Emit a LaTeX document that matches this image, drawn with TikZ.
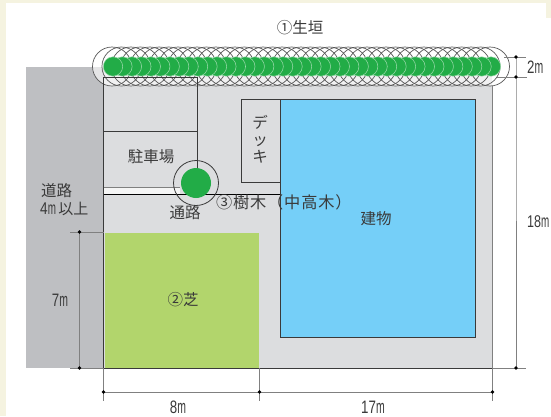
\documentclass[tikz,border=0pt]{standalone}
\usepackage{fontspec}
\setmainfont{Noto Sans CJK JP}
\newfontfamily\latinf{Liberation Sans}
\newcommand{\emm}{\scalebox{.58}[1.05]{m}}
\newcommand{\dimt}[1]{\scalebox{.74}[1]{#1}\emm}
\definecolor{cream}{HTML}{F5F3E0}
\definecolor{roadgray}{HTML}{BEBFC2}
\definecolor{sitegray}{HTML}{DCDDDF}
\definecolor{lawn}{HTML}{B2D56C}
\definecolor{bldg}{HTML}{75CFF8}
\definecolor{leaf}{HTML}{22AC47}
\definecolor{ink}{HTML}{3A3A3A}
\definecolor{dimgray}{HTML}{808080}
\tikzset{
  txt/.style={inner sep=0pt,text=ink,font=\fontsize{15.5}{18}\selectfont},
  dimtxt/.style={inner sep=0pt,text=ink,font=\latinf\fontsize{18}{20}\selectfont},
  wall/.style={draw=ink,line width=1pt},
  thinline/.style={draw=ink,line width=.8pt},
  dimline/.style={draw=dimgray,line width=.8pt},
  dimdot/.style={circle,fill=black,inner sep=0pt,minimum size=3.6pt},
  outerc/.style={draw=ink!85,line width=.7pt},
  greenc/.style={fill=leaf,draw=white!55!leaf,line width=.5pt},
}
\begin{document}
\begin{tikzpicture}[x=1pt,y=-1pt]
\useasboundingbox (0,0) rectangle (551,416);
% page
\fill[cream] (0,0) rectangle (551,416);
\fill[white] (6,3) rectangle (546,416);
\fill[white] (546,18) rectangle (551,416);
% ground
\fill[roadgray] (26,67) rectangle (103.5,368);
\fill[sitegray] (103.5,67) rectangle (492,368);
\fill[white!70!sitegray] (103.5,187) rectangle (180,194);
% hedge: outer circles
\fill[white,opacity=.6,rounded corners=19.4pt] (92.5,47) rectangle (509.5,86);
\foreach \i in {0,...,40}{
  \draw[outerc] ({112+\i*9.45},66.5) circle[radius=19.5];
}
% lawn, deck, building
\node[fill=lawn,minimum width=154pt,minimum height=135pt,inner sep=0pt,anchor=north west] (lawnbox) at (105,233) {};
\node[draw=ink,line width=1pt,fill=sitegray,minimum width=39.5pt,minimum height=83pt,inner sep=0pt,anchor=north west] (deck) at (240.5,99) {};
\node[draw=ink,line width=1pt,fill=bldg,minimum width=195pt,minimum height=238pt,inner sep=0pt,anchor=north west] (building) at (280,99) {};
% site lines
\coordinate (tl) at (103.5,77);
\coordinate (bl) at (103.5,368);
\coordinate (br) at (492,368);
\coordinate (tr) at (492,86);
\coordinate (p1) at (197.5,77);
\coordinate (pm) at (197.5,131.5);
\coordinate (lm) at (103.5,131.5);
\coordinate (tc) at (197.5,168);
\coordinate (w1) at (103.5,187);
\coordinate (w2) at (180,187);
\coordinate (u1) at (103.5,194);
\coordinate (u2) at (280,194);
\draw[wall] (tl) -- (bl) -- (br);
\draw[draw=dimgray,line width=1pt] (br) -- (tr);
\draw[thinline] (tl) -- (p1) -- (tc);
\draw[thinline] (lm) -- (pm);
\draw[dimline] (w1) -- (w2);
\draw[draw=black,line width=.8pt] (u1) -- (u2);
% tree
\node[circle,draw=ink,line width=.8pt,minimum size=45pt,inner sep=0pt] (treeouter) at (196,183) {};
\node[circle,fill=leaf,minimum size=30pt,inner sep=0pt] (tree) at (196,183) {};
% hedge green, later ones beneath earlier ones
\foreach \i in {40,39,...,0}{
  \draw[greenc] ({113+\i*9.45},66.5) circle[radius=9.7];
}
% dimensions
\coordinate (d2a) at (516,57);
\coordinate (d2b) at (516,77);
\coordinate (d2c) at (516,368);
\coordinate (t2a) at (504,57);
\coordinate (t2a') at (526,57);
\coordinate (t2b) at (497,77);
\coordinate (t2b') at (527,77);
\coordinate (t2c) at (492,368);
\coordinate (t2c') at (526,368);
\draw[dimline] (d2a) -- (d2b) -- (d2c);
\draw[dimline] (t2a) -- (t2a');
\draw[dimline] (t2b) -- (t2b');
\draw[dimline] (t2c) -- (t2c');
\node[dimdot] (dot2a) at (d2a) {};
\node[dimdot] (dot2b) at (d2b) {};
\node[dimdot] (dot2c) at (d2c) {};
\coordinate (d7a) at (79.5,232);
\coordinate (d7b) at (79.5,368);
\coordinate (t7a) at (70,232);
\coordinate (t7a') at (103.5,232);
\coordinate (t7b) at (70,368);
\coordinate (t7b') at (103.5,368);
\draw[dimline] (d7a) -- (d7b);
\draw[dimline] (t7a) -- (t7a');
\draw[dimline] (t7b) -- (t7b');
\node[dimdot] (dot7a) at (d7a) {};
\node[dimdot] (dot7b) at (d7b) {};
\coordinate (b1) at (103.5,392);
\coordinate (b2) at (259.5,392);
\coordinate (b3) at (492.5,392);
\coordinate (e1a) at (103.5,368);
\coordinate (e1b) at (103.5,401);
\coordinate (e2a) at (259.5,368);
\coordinate (e2b) at (259.5,401);
\coordinate (e3a) at (492.5,368);
\coordinate (e3b) at (492.5,401);
\draw[dimline] (b1) -- (b2) -- (b3);
\draw[dimline] (e1a) -- (e1b);
\draw[dimline] (e2a) -- (e2b);
\draw[dimline] (e3a) -- (e3b);
\node[dimdot] (dotb1) at (b1) {};
\node[dimdot] (dotb2) at (b2) {};
\node[dimdot] (dotb3) at (b3) {};
% labels
\node[txt] (lhedge) at (300,28) {①生垣};
\node[txt] (lpark) at (151,157) {駐車場};
\node[txt,align=center,font=\fontsize{15.5}{17}\selectfont] (ldeck) at (260,139) {デ\\ッ\\キ};
\node[txt,anchor=west] (lroad1) at (41,191) {道路};
\node[txt,anchor=west,font=\fontsize{15}{17}\selectfont] (lroad2) at (40,209) {{\latinf\fontsize{17}{17}\selectfont\scalebox{.8}[1]{4}\emm}\,以上};
\node[txt] (lpath) at (185,213) {通路};
\node[txt,anchor=west,font=\addfontfeature{LetterSpace=5}\fontsize{16.2}{18}\selectfont] (ltree) at (216,202) {③樹木（中高木）};
\node[txt] (lbldg) at (376,219) {建物};
\node[txt] (llawn) at (183,300) {②芝};
\node[dimtxt,anchor=west] (l2m) at (527,67) {\dimt{2}};
\node[dimtxt,anchor=west,font=\latinf\fontsize{17}{20}\selectfont] (l18m) at (527,222) {\dimt{18}};
\node[dimtxt] (l7m) at (60,300) {\dimt{7}};
\node[dimtxt] (l8m) at (178,407) {\dimt{8}};
\node[dimtxt] (l17m) at (373,407) {\dimt{17}};
\end{tikzpicture}
\end{document}
